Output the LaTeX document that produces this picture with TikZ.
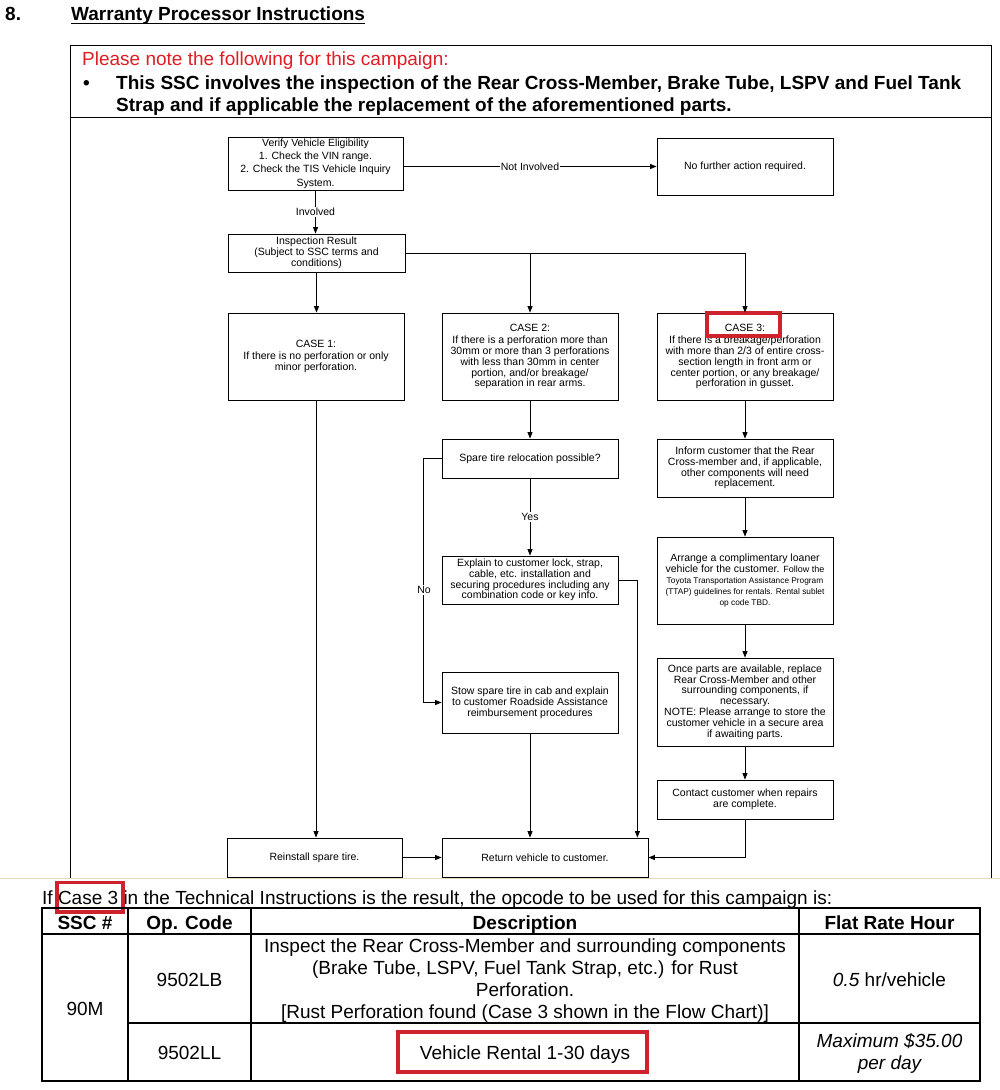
\documentclass[tikz,border=0pt]{standalone}
\usepackage{fontspec}
\setmainfont{Liberation Sans}
\usetikzlibrary{arrows.meta}
\definecolor{noteRed}{RGB}{222,30,36}
\definecolor{hiRed}{RGB}{206,34,44}
\definecolor{pageBeige}{RGB}{232,216,192}
\begin{document}
\begin{tikzpicture}[x=1pt,y=-1pt,
  fbox/.style={draw, line width=0.8pt, inner sep=0pt, align=center,
    font=\fontsize{10.5}{10.8}\selectfont},
  arr/.style={-{Triangle[length=6.5pt,width=5pt]}, line width=0.8pt},
  ln/.style={line width=0.8pt},
  lbl/.style={fill=white, inner sep=1pt, font=\fontsize{10.5}{12}\selectfont},
  big/.style={inner sep=0pt, font=\fontsize{19}{22}\selectfont},
  bigb/.style={inner sep=0pt, font=\bfseries\fontsize{19}{22}\selectfont},
  cell/.style={inner sep=0pt, align=center, font=\fontsize{19}{22}\selectfont},
  bcell/.style={cell, anchor=base},
  hcell/.style={bcell, font=\bfseries\fontsize{19}{22}\selectfont},
  hi/.style={draw=hiRed, line width=3.5pt},
  tbl/.style={line width=1.4pt}
]
\useasboundingbox (0,0) rectangle (1000,1090);
\fill[white] (0,0) rectangle (1000,1090);

% ---- heading ----
\node[bigb, anchor=base west] (num) at (5,20) {8.};
\node[bigb, anchor=base west] (title) at (71,20) {Warranty Processor Instructions};
\draw[line width=1.5pt] ([yshift=-3.5pt]title.base west) -- ([yshift=-3.5pt]title.base east);

% ---- frame ----
\draw[ln] (70,878) -- (70,45) -- (991,45) -- (991,878);
\draw[ln] (70,117) -- (991,117);
\draw[pageBeige, line width=1.2pt] (0,878.5) -- (1000,878.5);

\node[big, anchor=base west, text=noteRed] (note) at (82,65) {Please note the following for this campaign:};
\node[bigb, anchor=base west] (bul) at (83,89) {•};
\node[bigb, anchor=base west] (b1) at (116,89) {This SSC involves the inspection of the Rear Cross-Member, Brake Tube, LSPV and Fuel Tank};
\node[bigb, anchor=base west] (b2) at (116,111) {Strap and if applicable the replacement of the aforementioned parts.};

% ---- flowchart boxes ----
\node[fbox, minimum width=175, minimum height=53, font=\fontsize{10.5}{13.3}\selectfont] (verify) at (315.5,163.5)
  {Verify Vehicle Eligibility\\1. Check the VIN range.\\2. Check the TIS Vehicle Inquiry\\System.};
\node[fbox, minimum width=176, minimum height=57] (nofurther) at (745,166.5) {No further action required.};
\node[fbox, minimum width=177, minimum height=38, font=\fontsize{10.5}{11}\selectfont] (insp) at (316.5,253)
  {Inspection Result\\(Subject to SSC terms and\\conditions)};
\node[fbox, minimum width=176, minimum height=87] (case1) at (316,356.5)
  {CASE 1:\\[1pt]If there is no perforation or only\\minor perforation.};
\node[fbox, minimum width=176, minimum height=87] (case2) at (530,356.5)
  {CASE 2:\\[1.5pt]If there is a perforation more than\\30mm or more than 3 perforations\\with less than 30mm in center\\portion, and/or breakage/\\separation in rear arms.};
\node[fbox, minimum width=176, minimum height=87] (case3) at (745,356.5)
  {CASE 3:\\[1.5pt]If there is a breakage/perforation\\with more than 2/3 of entire cross-\\section length in front arm or\\center portion, or any breakage/\\perforation in gusset.};
\node[fbox, minimum width=176, minimum height=39] (spare) at (530,458.5) {Spare tire relocation possible?};
\node[fbox, minimum width=176, minimum height=48] (explain) at (530,580)
  {Explain to customer lock, strap,\\cable, etc. installation and\\securing procedures including any\\combination code or key info.};
\node[fbox, minimum width=176, minimum height=61] (stow) at (530,702.5)
  {Stow spare tire in cab and explain\\to customer Roadside Assistance\\reimbursement procedures};
\node[fbox, minimum width=176, minimum height=58] (inform) at (745,468)
  {Inform customer that the Rear\\Cross-member and, if applicable,\\other components will need\\replacement.};
\node[fbox, minimum width=176, minimum height=87, font=\fontsize{10.5}{11}\selectfont] (arrange) at (745,580.5)
  {Arrange a complimentary loaner\\vehicle for the customer. {\fontsize{9}{11}\selectfont Follow the}\\
   {\fontsize{8.3}{11}\selectfont Toyota Transportation Assistance Program}\\
   {\fontsize{8.3}{11}\selectfont (TTAP) guidelines for rentals. Rental sublet}\\
   {\fontsize{8.3}{11}\selectfont op code TBD.}};
\node[fbox, minimum width=176, minimum height=88] (once) at (745,702)
  {Once parts are available, replace\\Rear Cross-Member and other\\surrounding components, if\\necessary.\\NOTE: Please arrange to store the\\customer vehicle in a secure area\\if awaiting parts.};
\node[fbox, minimum width=176, minimum height=39] (contact) at (745,799.5)
  {Contact customer when repairs\\are complete.};
\node[fbox, minimum width=175, minimum height=39] (reinstall) at (314.5,857.5) {Reinstall spare tire.};
\node[fbox, minimum width=206, minimum height=39] (return) at (545,857.5) {Return vehicle to customer.};

% highlight on CASE 3
\draw[hi] (707,313) rectangle (780,336);

% ---- connectors ----
\draw[arr] (verify.east |- nofurther.west) -- (nofurther.west)
  node[lbl, pos=0.5] (notinv) {Not Involved};
\draw[arr] (verify.south) -- (verify.south |- insp.north)
  node[lbl, pos=0.5] (inv) {Involved};
\draw[arr] (insp.east) -| (case3.north);
\draw[arr] (insp.east -| case2.north) -- (case2.north);
\draw[arr] (insp.south) -- (insp.south |- case1.north);
\draw[arr] (case1.south) -- (case1.south |- reinstall.north);
\draw[arr] (case2.south) -- (spare.north);
\draw[arr] (spare.south) -- (explain.north) node[lbl, pos=0.5] (yes) {Yes};
\draw[arr] (spare.west) -- ++(-18,0) coordinate (nocorner) |- (stow.west);
\node[lbl] (no) at (424,590) {No};
\draw[arr] (explain.east) -| ([xshift=-11pt]return.north east);
\draw[arr] (stow.south) -- (stow.south |- return.north);
\draw[arr] (reinstall.east) -- (return.west);
\draw[arr] (case3.south) -- (inform.north);
\draw[arr] (inform.south) -- (arrange.north);
\draw[arr] (arrange.south) -- (once.north);
\draw[arr] (once.south) -- (contact.north);
\draw[arr] (contact.south) |- (return.east);

% ---- bottom sentence ----
\node[big, anchor=base west] (ifcase) at (42,904) {If Case 3 in the Technical Instructions is the result, the opcode to be used for this campaign is:};
\draw[hi] (57,882.5) rectangle (123,912);

% ---- table ----
\draw[tbl] (42,908) rectangle (980,1081);
\draw[tbl] (128,908) -- (128,1081);
\draw[tbl] (251,908) -- (251,1081);
\draw[tbl] (799,908) -- (799,1081);
\draw[tbl] (42,934) -- (980,934);
\draw[tbl] (128,1023) -- (980,1023);

\node[hcell] (h1) at (85,929) {SSC \#};
\node[hcell] (h2) at (189.5,929) {Op. Code};
\node[hcell] (h3) at (525,929) {Description};
\node[hcell] (h4) at (889.5,929) {Flat Rate Hour};

\node[bcell] (ssc) at (85,1015) {90M};
\node[bcell] (op1) at (189.5,986.5) {9502LB};
\node[bcell] (op2) at (189.5,1059) {9502LL};
\node[cell] (d1) at (525,981) {Inspect the Rear Cross-Member and surrounding components\\(Brake Tube, LSPV, Fuel Tank Strap, etc.) for Rust\\Perforation.\\{[}Rust Perforation found (Case 3 shown in the Flow Chart){]}};
\node[bcell] (r1) at (889.5,986.5) {\textit{0.5} hr/vehicle};
\node[bcell] (d2) at (525,1059) {Vehicle Rental 1-30 days};
\node[cell, font=\itshape\fontsize{19}{22}\selectfont] (r2) at (889.5,1053) {Maximum \$35.00\\per day};
\draw[hi] (398,1032) rectangle (647,1072);
\end{tikzpicture}
\end{document}
